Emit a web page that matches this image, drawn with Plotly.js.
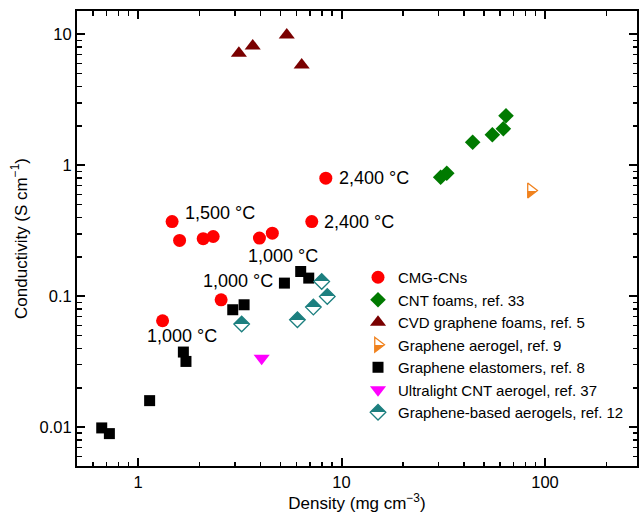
<!DOCTYPE html>
<html>
<head>
<meta charset="utf-8">
<script src="https://cdn.plot.ly/plotly-3.0.1.min.js"></script>
<style>html,body{margin:0;padding:0;background:#fff}#chart{width:643px;height:518px}</style>
</head>
<body>
<div id="chart"></div>
<script>
// ---- data (density mg cm^-3, conductivity S cm^-1) ----
const cmgDensity = [1.47, 1.60, 2.09, 2.34, 3.95, 4.57, 7.14, 2.56, 1.32, 8.37];
const cmgConductivity = [0.372, 0.267, 0.275, 0.286, 0.278, 0.303, 0.372, 0.094, 0.065, 0.797];
const cntFoamDensity = [64.3, 62.4, 55.1, 44.1, 32.9, 30.7];
const cntFoamConductivity = [2.39, 1.90, 1.71, 1.50, 0.87, 0.81];
const cvdDensity = [3.13, 3.66, 5.38, 6.37];
const cvdConductivity = [7.17, 8.16, 9.90, 5.84];
const aerogelDensity = [85.3];
const aerogelConductivity = [0.641];
const elastomerDensity = [6.30, 6.90, 5.24, 3.32, 2.92, 1.67, 1.72, 1.14, 0.663, 0.723];
const elastomerConductivity = [0.1546, 0.1376, 0.126, 0.0861, 0.0789, 0.0375, 0.0318, 0.01596, 0.00988, 0.00894];
const cntAerogelDensity = [4.05];
const cntAerogelConductivity = [0.0337];
const gbaDensity = [7.99, 8.51, 7.27, 6.07, 3.23];
const gbaConductivity = [0.1297, 0.0997, 0.0827, 0.0662, 0.0614];

const seriesNames = ['CMG-CNs', 'CNT foams, ref. 33', 'CVD graphene foams, ref. 5',
  'Graphene aerogel, ref. 9', 'Graphene elastomers, ref. 8',
  'Ultralight CNT aerogel, ref. 37', 'Graphene-based aerogels, ref. 12'];

const xTickVals = [1, 10, 100];
const xTickText = ['1', '10', '100'];
const yTickVals = [0.01, 0.1, 1, 10];
const yTickText = ['0.01', '0.1', '1', '10'];

// temperature labels and the CMG-CN point each one sits next to
const tempLabels = ['1,500 °C', '2,400 °C', '2,400 °C', '1,000 °C', '1,000 °C', '1,000 °C'];
const tempLabelPoint = [0, 9, 6, 5, 7, 8];

// ---- styling ----
const FONT = 'Liberation Sans, Arial, Helvetica, sans-serif';
const labelStyle = [
  {xanchor: 'left', xshift: 11, yshift: 9},
  {xanchor: 'left', xshift: 11, yshift: 0},
  {xanchor: 'left', xshift: 10, yshift: 0},
  {xanchor: 'center', xshift: 11, yshift: -23},
  {xanchor: 'center', xshift: 17, yshift: 19},
  {xanchor: 'center', xshift: 19, yshift: -15}
];

// minor tick positions (2..9 within each decade)
function minorTicks(d0, d1) {
  const out = [];
  for (let d = d0; d <= d1; d++) for (let k = 2; k <= 9; k++) out.push(k * Math.pow(10, d));
  return out;
}

function mk(x, y, name, marker) {
  return {x: x, y: y, name: name, type: 'scatter', mode: 'markers', marker: marker, hoverinfo: 'x+y'};
}

const traces = [
  mk(cmgDensity, cmgConductivity, seriesNames[0], {symbol: 'circle', size: 13, color: '#ff0000', line: {width: 0}}),
  mk(cntFoamDensity, cntFoamConductivity, seriesNames[1], {symbol: 'diamond', size: 12, color: '#007a00', line: {width: 0}}),
  mk(cvdDensity, cvdConductivity, seriesNames[2], {symbol: 'triangle-up', size: 14, color: '#7a0000', line: {width: 0}}),
  mk(aerogelDensity, aerogelConductivity, seriesNames[3], {symbol: 'triangle-right', size: 13, color: '#ffffff',
      gradient: {type: 'vertical', color: '#f0821e'}, line: {width: 1.3, color: '#f0821e'}}),
  mk(elastomerDensity, elastomerConductivity, seriesNames[4], {symbol: 'square', size: 11, color: '#000000', line: {width: 0}}),
  mk(cntAerogelDensity, cntAerogelConductivity, seriesNames[5], {symbol: 'triangle-down', size: 14, color: '#ff00ff', line: {width: 0}}),
  mk(gbaDensity, gbaConductivity, seriesNames[6], {symbol: 'diamond', size: 12, color: '#1c7f7f',
      gradient: {type: 'vertical', color: '#ffffff'}, line: {width: 1.3, color: '#1c7f7f'}})
];

const annotations = tempLabels.map(function (t, i) {
  const p = tempLabelPoint[i];
  return Object.assign({
    x: Math.log10(cmgDensity[p]), y: Math.log10(cmgConductivity[p]),
    xref: 'x', yref: 'y', text: t, showarrow: false, yanchor: 'middle',
    font: {family: FONT, size: 18, color: '#000'}
  }, labelStyle[i]);
});

function axis(extra, minorVals) {
  return Object.assign({
    type: 'log', ticks: 'inside', ticklen: 8, tickwidth: 2, tickcolor: '#000000',
    showline: true, linecolor: '#000', linewidth: 2, mirror: 'ticks',
    showgrid: false, zeroline: false, tickmode: 'array',
    tickfont: {family: FONT, size: 16.5, color: '#000'},
    minor: {tickmode: 'array', tickvals: minorVals, ticks: 'inside', ticklen: 4.5, tickwidth: 1.5,
            tickcolor: '#000000', showgrid: false}
  }, extra);
}

const layout = {
  width: 643, height: 518,
  margin: {l: 77, r: 6, t: 11, b: 52},
  paper_bgcolor: '#fff', plot_bgcolor: 'rgba(0,0,0,0)',
  font: {family: FONT, color: '#000'},
  showlegend: true,
  legend: {x: 0.5018, y: 0.4505, xanchor: 'left', yanchor: 'top', bgcolor: 'rgba(0,0,0,0)',
    font: {family: FONT, size: 15, color: '#000'}, itemwidth: 30, tracegroupgap: 0},
  xaxis: axis({
    range: [-0.30, 2.452], tickvals: xTickVals, ticktext: xTickText,
    title: {text: 'Density (mg cm<sup>−3</sup>)', font: {family: FONT, size: 17, color: '#000'}, standoff: 6}
  }, minorTicks(-1, 2)),
  yaxis: axis({
    range: [-2.296, 1.178], tickvals: yTickVals, ticktext: yTickText,
    title: {text: 'Conductivity (S cm<sup>−1</sup>)', font: {family: FONT, size: 17, color: '#000'}, standoff: 8}
  }, minorTicks(-3, 1)),
  annotations: annotations
};

Plotly.newPlot('chart', traces, layout, {displayModeBar: false, staticPlot: true}).then(function () {
  // make the two-colour markers split sharply at mid-height
  document.querySelectorAll('linearGradient').forEach(function (g) {
    const stops = g.querySelectorAll('stop');
    if (stops.length !== 2) return;
    const a2 = stops[0].cloneNode(true); a2.setAttribute('offset', '50%');
    const b2 = stops[1].cloneNode(true); b2.setAttribute('offset', '50%');
    g.insertBefore(a2, stops[1]);
    g.insertBefore(b2, stops[1]);
  });
});
</script>
</body>
</html>
